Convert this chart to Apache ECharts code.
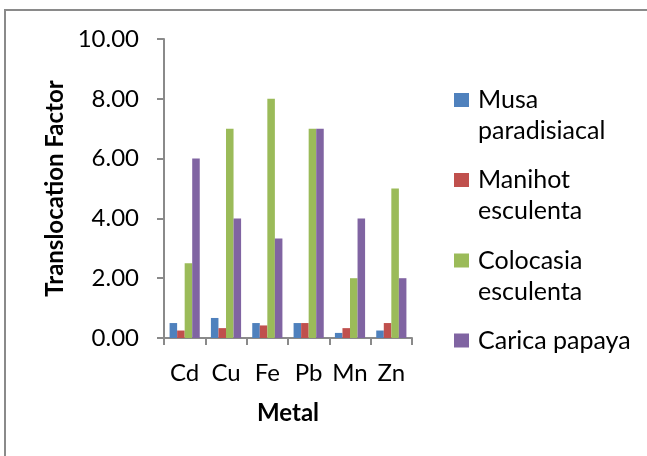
<!DOCTYPE html>
<html>
<head>
<meta charset="utf-8">
<title>Translocation Factor by Metal</title>
<script src="https://cdn.jsdelivr.net/npm/echarts@6/dist/echarts.min.js"></script>
<style>
  html, body { margin: 0; padding: 0; background: #ffffff; }
  #chart { width: 647px; height: 456px; }
</style>
</head>
<body>
<div id="chart"></div>
<script>
// Metals on the category axis
const metals = ['Cd', 'Cu', 'Fe', 'Pb', 'Mn', 'Zn'];

// Translocation factor per plant species
const musaParadisiacal = [0.50, 0.67, 0.50, 0.50, 0.17, 0.25];
const manihotEsculenta = [0.25, 0.33, 0.42, 0.50, 0.33, 0.50];
const colocasiaEsculenta = [2.50, 7.00, 8.00, 7.00, 2.00, 5.00];
const caricaPapaya = [6.00, 4.00, 3.33, 7.00, 4.00, 2.00];

// Y-axis range
const yTicks = [0, 2, 4, 6, 8, 10];

const seriesNames = ['Musa paradisiacal', 'Manihot esculenta', 'Colocasia esculenta', 'Carica papaya'];
// Legend text, wrapped the way it is shown beside the plot
const legendLabels = ['Musa\nparadisiacal', 'Manihot\nesculenta', 'Colocasia\nesculenta', 'Carica papaya\n'];
const seriesValues = [musaParadisiacal, manihotEsculenta, colocasiaEsculenta, caricaPapaya];
const colors = ['#4F81BD', '#C0504D', '#9BBB59', '#8064A2'];

const FONT = 'Lato, "Open Sans", sans-serif';
const AXIS_GREY = '#8a8a8a';
const LEGEND_LINE = 31;
const legendCenters = [100, 180, 260.5, 340.5];

const chart = echarts.init(document.getElementById('chart'), null, { renderer: 'canvas' });

const legends = seriesNames.map((name, i) => ({
  show: true,
  orient: 'vertical',
  left: 454,
  top: legendCenters[i] - 1.5 * LEGEND_LINE,
  padding: 0,
  itemWidth: 15,
  itemHeight: 14,
  itemGap: 0,
  icon: 'rect',
  selectedMode: false,
  data: [name],
  formatter: n => '\n' + legendLabels[seriesNames.indexOf(n)],
  textStyle: {
    fontFamily: FONT,
    fontSize: 25,
    color: '#000000',
    lineHeight: LEGEND_LINE,
    padding: [0, 0, 0, 4]
  }
}));

const option = {
  animation: false,
  backgroundColor: '#ffffff',
  color: colors,
  textStyle: { fontFamily: FONT },
  grid: { left: 164, right: 235, top: 39, bottom: 118, containLabel: false },
  legend: legends,
  xAxis: {
    type: 'category',
    data: metals,
    boundaryGap: true,
    name: 'Metal',
    nameLocation: 'middle',
    nameGap: 63,
    nameTextStyle: { fontFamily: FONT, fontSize: 24, fontWeight: 'bold', color: '#000000' },
    axisLine: { show: true, lineStyle: { color: AXIS_GREY, width: 2 } },
    axisTick: { show: true, alignWithLabel: false, interval: 0, length: 7, lineStyle: { color: AXIS_GREY, width: 2 } },
    axisLabel: { interval: 0, fontFamily: FONT, fontSize: 24, color: '#000000', margin: 23 },
    splitLine: { show: false }
  },
  yAxis: {
    type: 'value',
    min: yTicks[0],
    max: yTicks[yTicks.length - 1],
    interval: yTicks[1] - yTicks[0],
    name: 'Translocation Factor',
    nameLocation: 'middle',
    nameRotate: 90,
    nameGap: 97,
    nameTextStyle: { fontFamily: FONT, fontSize: 24, fontWeight: 'bold', color: '#000000' },
    axisLine: { show: true, lineStyle: { color: AXIS_GREY, width: 2 } },
    axisTick: { show: true, inside: false, length: 7, lineStyle: { color: AXIS_GREY, width: 2 } },
    axisLabel: {
      fontFamily: FONT, fontSize: 24, color: '#000000', margin: 25,
      formatter: v => v.toFixed(2)
    },
    splitLine: { show: false }
  },
  graphic: [
    // chart frame: top and left edges
    { type: 'line', shape: { x1: 4, y1: 10, x2: 647, y2: 10 }, style: { stroke: '#8a8a8a', lineWidth: 2 }, silent: true },
    { type: 'line', shape: { x1: 5, y1: 9, x2: 5, y2: 456 }, style: { stroke: '#8a8a8a', lineWidth: 2 }, silent: true }
  ],
  series: seriesNames.map((name, i) => ({
    name: name,
    type: 'bar',
    data: seriesValues[i],
    barGap: '0%',
    barCategoryGap: '27%',
    itemStyle: { color: colors[i] },
    emphasis: { disabled: true }
  }))
};

chart.setOption(option);
</script>
</body>
</html>
